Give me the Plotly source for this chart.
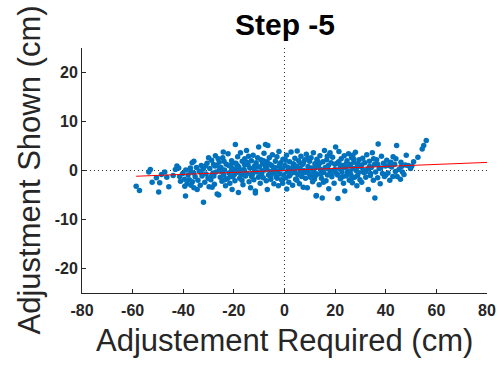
import numpy as np
import plotly.graph_objects as go

# ---- data ----
x_required = [
    -58.6, -57.3, -53.6, -53.0, -52.3, -50.6, -49.7, -49.3, -48.6, -47.3,
    -45.7, -43.1, -41.8, -41.4, -41.1, -39.5, -39.4, -39.1, -37.2, -36.9,
    -36.5, -32.0, -34.5, -35.8, -30.0, -32.9, -35.8, -44.0, -46.5, -42.5,
    -40.2, -39.0, -38.5, -38.1, -37.6, -37.0, -36.4, -35.9, -35.3, -34.8,
    -34.2, -33.7, -33.3, -32.6, -32.1, -31.5, -31.0, -30.6, -30.2, -29.8,
    -29.5, -29.1, -28.8, -28.4, -28.0, -27.7, -27.3, -27.0, -26.6, -26.0,
    -25.8, -25.4, -25.1, -24.7, -24.4, -24.0, -23.7, -23.3, -23.0, -22.6,
    -22.3, -21.9, -21.6, -21.2, -20.9, -20.7, -20.4, -20.1, -19.8, -19.4,
    -29.0, -27.5, -26.2, -25.0, -23.5, -22.0, -21.0, -24.2, -28.6, -26.8,
    -19.6, -19.2, -18.9, -18.5, -18.2, -18.0, -17.7, -17.4, -17.0, -16.7,
    -16.4, -16.0, -15.7, -15.4, -15.0, -14.7, -14.4, -14.0, -13.7, -13.4,
    -13.1, -12.8, -12.4, -12.1, -11.8, -11.5, -11.5, -11.2, -10.9, -10.6,
    -10.2, -10.3, -19.0, -17.2, -15.8, -14.2, -13.0, -12.0, -16.8, -18.7,
    -9.9, -9.6, -9.3, -9.0, -8.7, -8.4, -8.1, -7.8, -7.5, -7.2,
    -6.9, -6.8, -6.6, -6.3, -6.0, -5.7, -5.4, -5.1, -4.8, -4.5,
    -4.2, -3.9, -3.6, -3.3, -3.0, -2.7, -2.4, -2.1, -1.8, -1.5,
    -1.2, -0.9, -0.6, -0.3, -8.9, -7.0, -5.5, -3.5, -1.9, -0.7,
    0.2, 0.5, 0.8, 1.1, 1.4, 1.7, 2.0, 2.3, 2.6, 2.9,
    3.2, 3.5, 3.8, 4.1, 4.4, 4.7, 5.0, 5.3, 5.6, 5.9,
    6.2, 6.5, 6.8, 7.1, 7.4, 7.7, 8.0, 8.3, 8.6, 9.0,
    9.3, 9.6, 9.9, 1.5, 3.0, 4.5, 6.0, 7.5, 9.0, 0.9,
    10.2, 10.5, 10.8, 11.1, 11.4, 11.7, 12.0, 12.3, 12.5, 12.8,
    13.1, 13.4, 13.7, 14.0, 14.3, 14.6, 14.9, 15.2, 15.5, 15.8,
    16.1, 16.4, 16.7, 17.0, 17.3, 17.5, 17.8, 18.1, 18.4, 18.7,
    19.0, 19.3, 19.6, 19.9, 11.0, 13.0, 15.0, 17.0, 12.6, 11.8,
    20.2, 20.5, 20.8, 21.1, 21.5, 21.8, 22.1, 22.4, 22.7, 23.0,
    23.3, 23.6, 23.8, 24.1, 24.4, 24.7, 25.0, 25.3, 25.6, 25.9,
    26.2, 26.5, 26.8, 27.1, 27.4, 27.7, 28.0, 28.3, 28.6, 28.9,
    29.2, 29.5, 29.8, 21.0, 23.5, 26.0, 28.5, 24.8, 22.0, 27.0,
    30.1, 30.5, 30.9, 31.3, 31.7, 32.1, 32.5, 32.9, 33.1, 33.5,
    33.9, 34.3, 34.7, 35.1, 35.5, 35.7, 36.0, 36.4, 36.8, 37.0,
    37.4, 37.8, 38.3, 38.7, 39.1, 39.5, 39.9, 31.0, 34.0, 38.0,
    40.4, 40.9, 41.6, 42.3, 42.8, 42.9, 43.5, 44.3, 44.5, 45.2,
    46.0, 46.6, 47.2, 48.1, 48.8, 49.8, 51.0, 52.7, 54.4, 56.0,
    55.0, 41.2, 43.8, 45.8, 47.7, 50.3, 40.0, 42.0, 44.0, 46.2,
    -28.2, -25.6, -23.9, -21.4, -18.4, -16.2, -14.9, -12.6, -10.8, -9.4,
    -7.6, -5.9, -4.4, -2.9, -1.4, 0.4, 1.9, 3.4, 4.9, 6.4,
    7.9, 9.4, 10.9, 12.4, 13.9, 15.4, 16.9, 18.4, 19.9, 21.4,
    22.9, 24.4, 25.9, 27.4, 28.9, 30.4, 32.0, 33.6, 35.2, 36.8,
    -33.0, -31.2, -27.9, -20.5, -8.3, 4.0, 14.5, 26.6, -2.2, 18.0,
]
y_shown = [
    -3.2, -4.1, -0.3, 0.2, -2.4, -1.5, -4.4, -2.5, -0.8, -0.3,
    -3.3, 0.2, 0.5, -1.2, -2.2, -1.8, -3.2, -5.2, 0.5, -3.0,
    1.6, -6.5, -3.9, -3.5, 2.6, 1.0, 1.9, -1.0, -1.4, 0.9,
    -0.6, 0.1, -2.7, -0.9, -1.9, -0.2, -2.3, -0.5, -1.3, 0.6,
    -2.0, -0.1, -3.0, -1.1, 0.3, -2.4, -0.7, 1.5, -1.6, -3.3,
    0.4, -1.9, 2.1, -0.8, 1.2, -2.8, 3.0, -0.3, -4.8, -5.0,
    1.7, -1.4, 0.6, -2.2, 2.6, -0.9, 0.1, -3.1, 1.3, -1.7,
    3.4, -0.5, -2.6, 0.8, 2.0, -3.9, -1.2, 0.3, -0.8, 5.3,
    -1.2, 0.9, 2.4, -0.2, -1.9, 1.0, -0.1, 3.8, -3.4, 1.0,
    -2.1, 1.5, -0.4, 2.8, -4.5, 0.6, -1.6, 3.6, -0.1, 1.9,
    -2.9, 0.2, 2.4, -1.1, 4.1, -0.6, 1.1, -2.3, 0.5, -3.5,
    2.0, -0.9, 3.1, -1.9, 0.9, -4.2, -4.6, 1.6, -0.3, 2.6,
    4.8, -1.4, 0.0, -0.9, 1.2, 2.9, -1.2, 0.3, -2.0, 1.0,
    0.7, -2.6, 2.2, -0.6, 1.4, -1.5, 3.5, 0.1, 5.3, -2.1,
    1.8, -3.9, 5.1, -0.9, 2.6, -0.2, -1.8, 1.0, 3.2, -0.5,
    -2.7, 0.6, 1.9, -1.3, 2.8, -0.1, -3.1, 0.9, -0.7, 1.6,
    -1.9, 0.3, 2.3, -0.9, -0.1, 0.4, -1.1, -0.2, 1.1, -2.6,
    1.0, -1.5, 3.1, -0.2, 0.6, -2.4, 1.8, -0.8, 3.8, 0.3,
    -3.0, 1.4, -0.4, 2.5, -1.8, 0.9, 4.0, -0.9, 2.0, -2.7,
    0.4, 2.9, -1.2, 1.2, -3.4, 0.0, 2.2, -1.6, 3.3, -3.5,
    0.8, -0.6, 1.9, -0.3, 0.2, 0.5, -0.5, 1.6, -0.1, -3.8,
    -1.4, 2.6, 0.5, -2.3, 3.6, -0.3, 1.4, -1.0, -5.2, 2.3,
    -0.7, 0.9, -2.9, 3.0, 0.2, -1.6, -5.6, 1.8, -0.4, 4.1,
    0.6, -2.1, 2.2, -0.9, 1.0, -3.7, 3.2, -0.2, 1.6, -1.3,
    2.7, 0.0, -2.6, 1.3, 0.2, 1.9, -0.1, 0.4, -5.1, -1.8,
    4.8, -0.6, 1.5, -5.7, 3.9, 0.3, -1.7, 2.4, -0.3, 1.0,
    -2.6, 3.0, -4.2, 0.7, -1.1, 2.0, -0.1, 3.4, -2.0, 1.2,
    -0.8, 2.6, -2.5, 0.4, 1.7, -1.4, 3.7, 0.0, -3.1, 1.4,
    -0.4, 2.2, -1.9, -0.9, 0.6, 0.9, 0.6, -0.5, 1.1, 3.1,
    0.8, -2.4, 2.5, -0.4, 1.6, -1.4, 3.2, 0.3, -3.9, 1.9,
    -1.0, 0.6, 3.6, -2.0, 1.2, -5.6, -0.3, 2.2, -1.5, 5.4,
    0.4, -2.7, 2.9, -0.6, 1.5, -1.2, 0.9, 0.1, -0.6, 0.5,
    2.1, -0.5, -2.0, 0.7, -1.2, 2.8, 1.3, 5.1, -1.2, 0.2,
    1.7, -0.3, -0.8, 3.1, 1.0, 0.4, 1.8, 2.7, 4.4, 6.1,
    5.1, 1.0, -0.2, -1.8, 1.1, 0.9, -0.9, 1.7, 2.4, 0.8,
    -0.5, 0.2, 1.9, -1.3, 0.9, -0.3, 1.7, -0.6, 0.8, -1.0,
    0.9, 1.3, 0.1, -1.6, 0.4, 2.1, -1.1, 0.8, -2.0, 1.5,
    -0.4, 2.5, -0.9, 0.6, 1.5, -2.4, 2.9, -0.7, 0.2, 1.8,
    -1.3, 1.4, -0.2, 2.3, -1.0, 1.1, -0.3, 0.8, 2.4, 1.3,
    -0.4, 0.9, -1.1, 1.6, 2.0, -0.2, -0.6, -1.6, 3.9, 3.6,
]

x_ticks = [-80, -60, -40, -20, 0, 20, 40, 60, 80]
y_ticks = [-20, -10, 0, 10, 20]
x_range = [-80, 80]
y_range = [-25, 25]

title_text = "Step -5"
x_title = "Adjustement Required (cm)"
y_title = "Adjustment Shown (cm)"

# ---- least-squares fit line (drawn from min x to the right axis limit) ----
xa = np.array(x_required)
ya = np.array(y_shown)
slope, intercept = np.polyfit(xa, ya, 1)
fit_x = np.array([xa.min(), x_range[1]])
fit_y = slope * fit_x + intercept

FONT = "Liberation Sans, Arial, Helvetica, sans-serif"
AX = "#262626"

fig = go.Figure()
fig.add_trace(go.Scatter(
    x=x_required, y=y_shown, mode="markers",
    marker=dict(color="#0072BD", size=5.5, line=dict(width=0)),
    showlegend=False, hoverinfo="skip"))
fig.add_trace(go.Scatter(
    x=fit_x, y=fit_y, mode="lines",
    line=dict(color="#FF0000", width=1),
    showlegend=False, hoverinfo="skip"))

zero_line = dict(color="#333333", width=1, dash="1px,3px")
fig.add_hline(y=0, line=zero_line, layer="below")
fig.add_vline(x=0, line=zero_line, layer="below")

axis_common = dict(
    showgrid=False, zeroline=False, showline=True, linecolor=AX, linewidth=1,
    ticks="inside", ticklen=4, tickcolor=AX, tickwidth=1,
    tickfont=dict(family=FONT, size=16, color=AX, weight="bold"),
    mirror=False, automargin=False,
)
fig.update_xaxes(range=x_range, tickvals=x_ticks, ticktext=[str(v) for v in x_ticks],
                 ticklabelstandoff=3, **axis_common)
fig.update_yaxes(range=y_range, tickvals=y_ticks, ticktext=[str(v) for v in y_ticks], **axis_common)

fig.update_layout(
    width=499, height=367,
    margin=dict(l=82, r=12, t=48, b=74),
    plot_bgcolor="white", paper_bgcolor="white",
    annotations=[
        dict(text=title_text, x=0.5, y=1, xref="paper", yref="paper",
             xanchor="center", yanchor="middle", yshift=24, showarrow=False,
             font=dict(family=FONT, size=30, color="#000000", weight="bold")),
        dict(text=x_title, x=0.5, y=0, xref="paper", yref="paper",
             xanchor="center", yanchor="middle", yshift=-47, showarrow=False,
             font=dict(family=FONT, size=31, color=AX)),
        dict(text=y_title, x=0, y=0.5, xref="paper", yref="paper",
             xanchor="center", yanchor="middle", xshift=-53, textangle=-90,
             showarrow=False, font=dict(family=FONT, size=31, color=AX)),
    ],
)

fig.write_html("out.html")
